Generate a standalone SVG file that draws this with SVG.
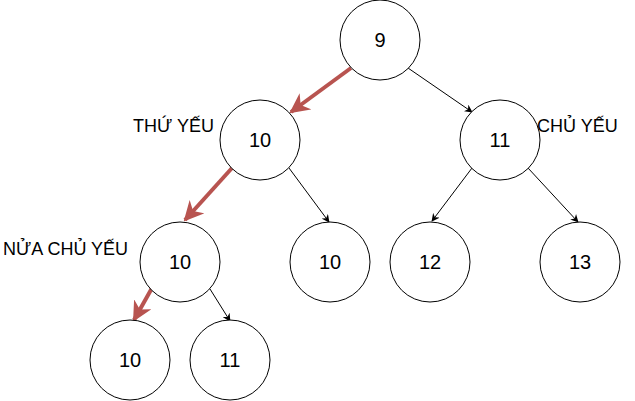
<svg xmlns="http://www.w3.org/2000/svg" width="635" height="401" viewBox="0 0 635 401">
<defs>
<style>
.n circle{fill:#fff;stroke:#000;stroke-width:1}
.n text{font-family:"Liberation Sans",Arial,sans-serif;font-size:20px;text-anchor:middle;fill:#000}
.lbl{font-family:"Liberation Sans",Arial,sans-serif;font-size:18px;fill:#000}
.blk{stroke:#000;stroke-width:1;fill:none;marker-end:url(#ab)}
.red{stroke:#b85450;stroke-width:4;fill:none;marker-end:url(#ar)}
</style>
<marker id="ab" viewBox="0 0 10 10" refX="9" refY="5" markerWidth="8" markerHeight="8" markerUnits="userSpaceOnUse" orient="auto"><path d="M0,0 L10,5 L0,10 L3,5 Z" fill="#000"/></marker>
<marker id="ar" viewBox="0 0 10 10" refX="9" refY="5" markerWidth="20" markerHeight="20" markerUnits="userSpaceOnUse" orient="auto"><path d="M0,0 L10,5 L0,10 L3,5 Z" fill="#b85450"/></marker>
</defs>
<rect width="635" height="401" fill="#fff"/>
<g id="connectors">
<line class="red" x1="351" y1="68" x2="291" y2="112"/>
<line class="blk" x1="408" y1="68" x2="472" y2="112"/>
<line class="red" x1="232" y1="168" x2="185" y2="220"/>
<line class="blk" x1="289" y1="168" x2="329" y2="222"/>
<line class="blk" x1="472" y1="168" x2="432" y2="221"/>
<line class="blk" x1="528" y1="168" x2="578" y2="222"/>
<line class="red" x1="152" y1="288" x2="134" y2="320"/>
<line class="blk" x1="210" y1="289" x2="230" y2="321"/>
</g>
<g id="n9" class="n"><circle cx="380" cy="40" r="40"/><text x="380" y="47">9</text></g>
<g id="n10a" class="n"><circle cx="260" cy="140" r="40"/><text x="260" y="147">10</text></g>
<g id="n11a" class="n"><circle cx="500" cy="140" r="40"/><text x="500" y="147">11</text></g>
<g id="n10b" class="n"><circle cx="180" cy="262" r="40"/><text x="180" y="269">10</text></g>
<g id="n10c" class="n"><circle cx="330" cy="262" r="40"/><text x="330" y="269">10</text></g>
<g id="n12" class="n"><circle cx="430" cy="262" r="40"/><text x="430" y="269">12</text></g>
<g id="n13" class="n"><circle cx="580" cy="262" r="40"/><text x="580" y="269">13</text></g>
<g id="n10d" class="n"><circle cx="130" cy="360" r="40"/><text x="130" y="367">10</text></g>
<g id="n11b" class="n"><circle cx="230" cy="360" r="40"/><text x="230" y="367">11</text></g>
<g id="labels">
<text class="lbl" x="133" y="132">THỨ YẾU</text>
<text class="lbl" x="537" y="132">CHỦ YẾU</text>
<text class="lbl" x="3" y="255">NỬA CHỦ YẾU</text>
</g>
</svg>
